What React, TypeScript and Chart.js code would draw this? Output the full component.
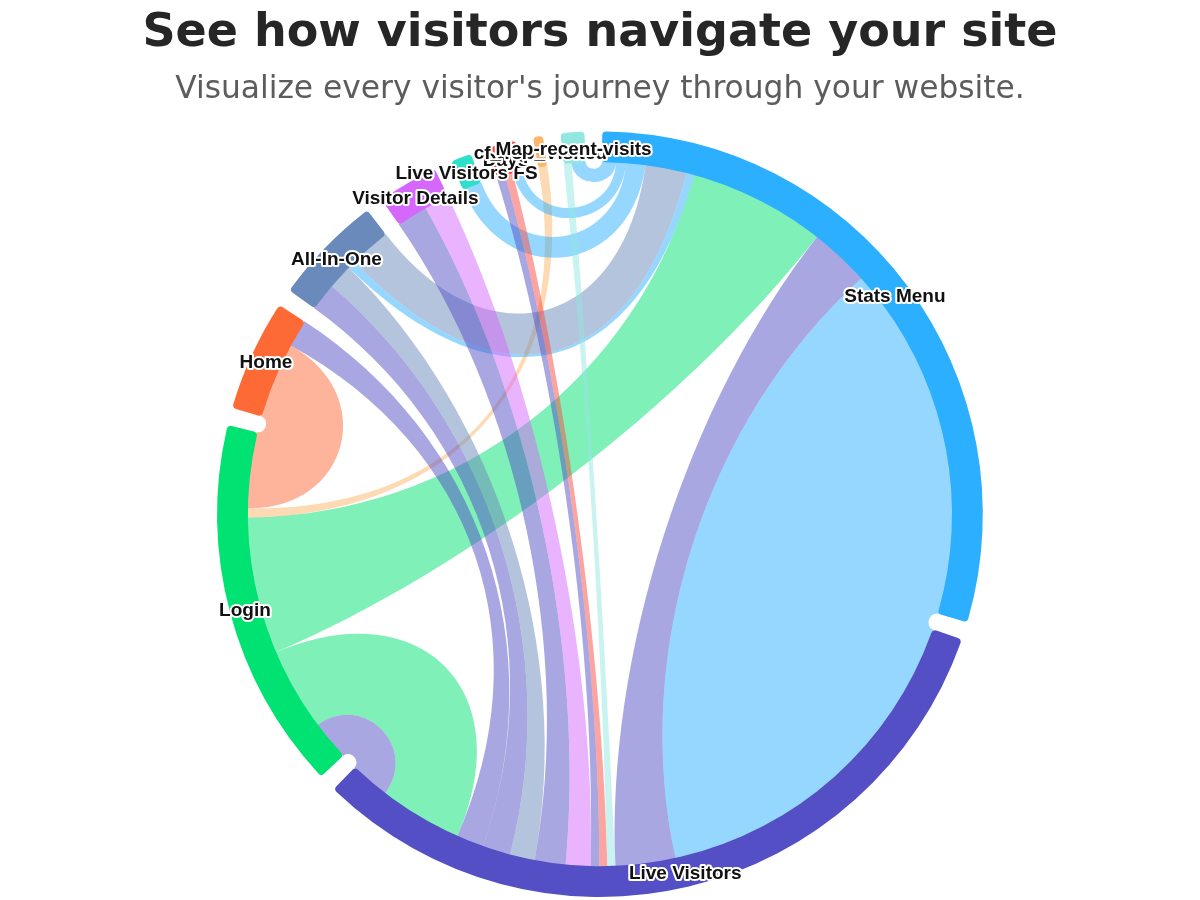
import { useEffect, useRef } from 'react';
import { Chart, DoughnutController, registerables } from 'chart.js';

Chart.register(...registerables);

// ---- data -----------------------------------------------------------------
const TITLE = 'See how visitors navigate your site';
const SUBTITLE = "Visualize every visitor's journey through your website.";

const nodeNames = [
  'Stats Menu',
  'Live Visitors',
  'Login',
  'Home',
  'All-In-One',
  'Visitor Details',
  'Live Visitors FS',
  'Days',
  'cf_Top_Visited',
  'Map-recent-visits',
];

const nodeColors = [
  '#2caffe',
  '#544fc5',
  '#00e272',
  '#fe6a35',
  '#6b8abc',
  '#d568fb',
  '#2ee0ca',
  '#fa4b42',
  '#feb56a',
  '#91e8e1',
];

// page-to-page transitions (from -> to, visits)
const linkFrom = [
  'Stats Menu', 'Live Visitors', 'Login', 'Login', 'Live Visitors',
  'Home', 'cf_Top_Visited', 'Live Visitors', 'Live Visitors', 'All-In-One',
  'All-In-One', 'Stats Menu', 'Live Visitors', 'Visitor Details', 'Stats Menu',
  'Live Visitors', 'Days', 'Stats Menu', 'Map-recent-visits', 'Stats Menu',
];
const linkTo = [
  'Live Visitors', 'Stats Menu', 'Stats Menu', 'Live Visitors', 'Login',
  'Login', 'Login', 'Home', 'All-In-One', 'Live Visitors',
  'Stats Menu', 'All-In-One', 'Visitor Details', 'Live Visitors', 'Live Visitors FS',
  'Days', 'Live Visitors', 'Days', 'Live Visitors', 'Map-recent-visits',
];
const linkWeight = [
  585, 99, 225, 137, 65,
  125, 15, 45, 46, 41,
  68, 13, 51, 41, 32,
  14, 13, 16, 13, 23,
];

// ---- derived --------------------------------------------------------------
const fromIdx = linkFrom.map((n) => nodeNames.indexOf(n));
const toIdx = linkTo.map((n) => nodeNames.indexOf(n));
const nodeTotals = nodeNames.map((_, i) =>
  linkWeight.reduce((s, w, l) => s + (fromIdx[l] === i ? w : 0) + (toIdx[l] === i ? w : 0), 0)
);

const TAU = Math.PI * 2;
const NODE_PADDING = (2.66 * Math.PI) / 180;
const CURVE_FACTOR = 0.6;

function rgba(hex: string, a: number) {
  const v = parseInt(hex.slice(1), 16);
  return `rgba(${(v >> 16) & 255},${(v >> 8) & 255},${v & 255},${a})`;
}

// Doughnut variant that leaves an equal angular gap between every node.
class DependencyWheelController extends DoughnutController {
  static id = 'dependencyWheel';
  static defaults = DoughnutController.defaults;
  static overrides = DoughnutController.overrides;

  _circumference(i: number, reset: boolean) {
    const n = (this as any)._cachedMeta._parsed.length;
    const base = (super._circumference as any).call(this, i, reset);
    return (base / TAU) * (TAU - n * NODE_PADDING) + NODE_PADDING;
  }

  updateElements(arcs: any[], start: number, count: number, mode: any) {
    super.updateElements(arcs as any, start, count, mode);
    for (let i = start; i < start + count; i++) {
      const arc = arcs[i];
      arc.startAngle += NODE_PADDING / 2;
      arc.endAngle -= NODE_PADDING / 2;
      arc.circumference = Math.max(arc.endAngle - arc.startAngle, 0);
    }
  }
}
Chart.register(DependencyWheelController as any);

// Splits every node arc into link slots, ordered so neighbouring links do not cross.
function computeSlots(arcs: any[]) {
  const n = nodeNames.length;
  const fromSlot: number[][] = [];
  const toSlot: number[][] = [];
  for (let i = 0; i < n; i++) {
    const entries: { l: number; end: 'to' | 'from'; other: number }[] = [];
    linkWeight.forEach((_, l) => {
      if (toIdx[l] === i) entries.push({ l, end: 'to', other: fromIdx[l] });
    });
    linkWeight.forEach((_, l) => {
      if (fromIdx[l] === i) entries.push({ l, end: 'from', other: toIdx[l] });
    });
    entries.sort((a, b) => ((i - a.other + n) % n) - ((i - b.other + n) % n));
    const arc = arcs[i];
    const span = arc.endAngle - arc.startAngle;
    let a = arc.startAngle;
    for (const e of entries) {
      const w = (linkWeight[e.l] / nodeTotals[i]) * span;
      const slot = [a, a + w];
      if (e.end === 'to') toSlot[e.l] = slot;
      else fromSlot[e.l] = slot;
      a += w;
    }
  }
  return { fromSlot, toSlot };
}

const ribbonPlugin = {
  id: 'wheelRibbons',
  beforeDatasetsDraw(chart: any) {
    const arcs = chart.getDatasetMeta(0).data;
    if (!arcs.length) return;
    const ctx: CanvasRenderingContext2D = chart.ctx;
    const { x: cx, y: cy } = arcs[0];
    const r = arcs[0].innerRadius + 1;
    const { fromSlot, toSlot } = computeSlots(arcs);

    const corner = (ang: number, other: number) => {
      let d = Math.abs(other - ang) % TAU;
      if (d > Math.PI) d = TAU - d;
      let cf = CURVE_FACTOR;
      if (d < 1) cf *= d;
      const c = Math.cos(ang);
      const s = Math.sin(ang);
      return { x: cx + r * c, y: cy + r * s, cpx: cx + (1 - cf) * r * c, cpy: cy + (1 - cf) * r * s };
    };

    ctx.save();
    linkWeight.forEach((_, l) => {
      const [a0, a1] = fromSlot[l];
      const [b0, b1] = toSlot[l];
      const c0 = corner(a0, b1);
      const c1 = corner(a1, b0);
      const c2 = corner(b0, a1);
      const c3 = corner(b1, a0);
      ctx.beginPath();
      ctx.moveTo(c0.x, c0.y);
      ctx.arc(cx, cy, r, a0, a1);
      ctx.bezierCurveTo(c1.cpx, c1.cpy, c2.cpx, c2.cpy, c2.x, c2.y);
      ctx.arc(cx, cy, r, b0, b1);
      ctx.bezierCurveTo(c3.cpx, c3.cpy, c0.cpx, c0.cpy, c0.x, c0.y);
      ctx.closePath();
      ctx.fillStyle = rgba(nodeColors[fromIdx[l]], 0.5);
      ctx.fill();
    });
    ctx.restore();
  },
};

const labelPlugin = {
  id: 'wheelLabels',
  afterDatasetsDraw(chart: any) {
    const arcs = chart.getDatasetMeta(0).data;
    const ctx: CanvasRenderingContext2D = chart.ctx;
    ctx.save();
    ctx.font = 'bold 19px "Liberation Sans", Arial, sans-serif';
    ctx.textAlign = 'center';
    ctx.textBaseline = 'middle';
    ctx.lineJoin = 'round';
    arcs.forEach((arc: any, i: number) => {
      const mid = (arc.startAngle + arc.endAngle) / 2;
      const rr = (arc.innerRadius + arc.outerRadius) / 2;
      const x = arc.x + rr * Math.cos(mid);
      const y = arc.y + rr * Math.sin(mid) + 2;
      ctx.lineWidth = 4;
      ctx.strokeStyle = '#ffffff';
      ctx.strokeText(nodeNames[i], x, y);
      ctx.fillStyle = '#111111';
      ctx.fillText(nodeNames[i], x, y);
    });
    ctx.restore();
  },
};

export default function App() {
  const canvasRef = useRef<HTMLCanvasElement>(null);

  useEffect(() => {
    document.body.style.margin = '0';
    const canvas = canvasRef.current;
    if (!canvas) return;
    const chart = new Chart(canvas, {
      type: 'dependencyWheel' as any,
      data: {
        labels: nodeNames,
        datasets: [
          {
            data: nodeTotals,
            backgroundColor: nodeColors,
            borderWidth: 0,
            borderRadius: 4,
          } as any,
        ],
      },
      options: {
        responsive: false,
        animation: false,
        rotation: -1,
        cutout: 352,
        layout: { padding: { top: 0, bottom: 3, left: 0, right: 0 } },
        plugins: {
          legend: { display: false },
          tooltip: { enabled: false },
          title: {
            display: true,
            text: TITLE,
            color: '#262626',
            font: { family: '"DejaVu Sans", sans-serif', size: 46, weight: 'bold', lineHeight: 1.2 },
            padding: { top: 6, bottom: 0 },
          },
          subtitle: {
            display: true,
            text: SUBTITLE,
            color: '#5c5c5c',
            font: { family: '"DejaVu Sans", sans-serif', size: 31.3, weight: 'normal', lineHeight: 1.2 },
            padding: { top: 9.6, bottom: 23 },
          },
        },
      } as any,
      plugins: [ribbonPlugin, labelPlugin],
    });
    return () => chart.destroy();
  }, []);

  return (
    <div style={{ width: 1200, height: 900 }}>
      <canvas ref={canvasRef} width={1200} height={900} style={{ display: 'block' }} />
    </div>
  );
}
